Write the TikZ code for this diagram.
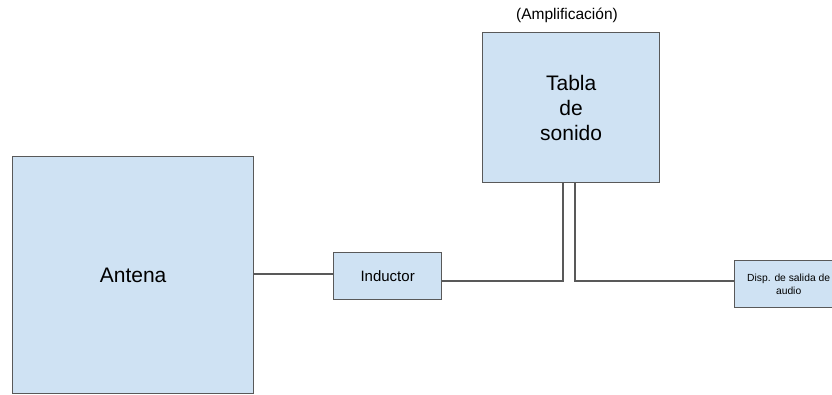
\documentclass[tikz,border=0pt]{standalone}
\usepackage{fontspec}
\setmainfont{Liberation Sans}
\definecolor{boxfill}{HTML}{CFE2F3}
\definecolor{boxline}{HTML}{595959}
\begin{document}
\begin{tikzpicture}[x=1pt,y=-1pt,
  blk/.style={draw=boxline,fill=boxfill,line width=1.3pt,inner sep=0pt,anchor=north west,align=center},
  wire/.style={draw=boxline,line width=1.1pt}]
\useasboundingbox (0,0) rectangle (832,394);
\clip (0,0) rectangle (832,394);
\node[blk,minimum width=241pt,minimum height=237pt,font=\fontsize{21}{24}\selectfont] (ant) at (12,156) {Antena};
\node[blk,minimum width=108pt,minimum height=47pt,font=\fontsize{15}{18}\selectfont] (ind) at (333,252) {Inductor};
\node[blk,minimum width=177pt,minimum height=150pt,font=\fontsize{21}{25}\selectfont] (tab) at (482,32) {Tabla\\de\\sonido};
\node[font=\fontsize{15.5}{18}\selectfont] (amp) at (567,15) {(Amplificación)};
\node[blk,minimum width=108pt,minimum height=47pt,font=\fontsize{10.3}{12.5}\selectfont] (disp) at (734,260) {Disp. de salida de\\audio};
\coordinate (t1) at (563,182);
\coordinate (t2) at (575,182);
\draw[wire] (ant.east |- 0,274) -- (ind.west |- 0,274);
\draw[wire] (ind.east |- 0,281) -| (t1);
\draw[wire] (t2) |- (disp.west |- 0,281);
\end{tikzpicture}
\end{document}
